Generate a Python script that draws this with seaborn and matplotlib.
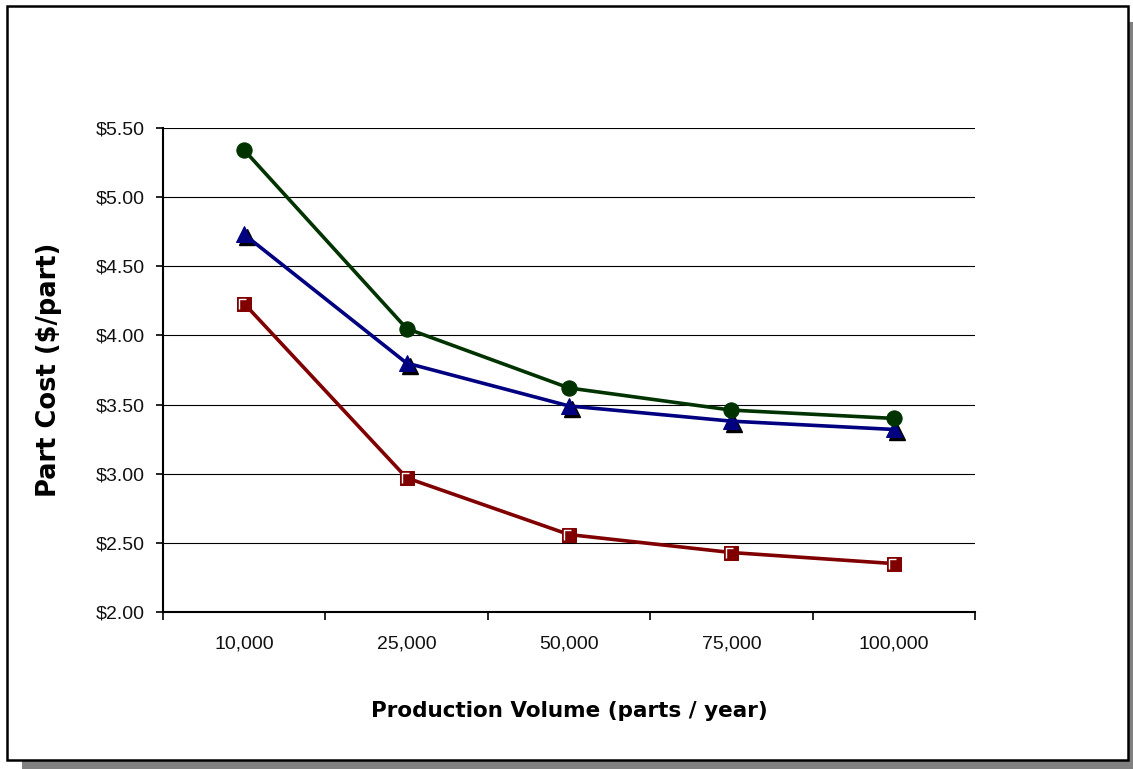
#!/usr/bin/env python3
"""Part cost vs production volume -- Excel-style line chart."""

import numpy as np
import matplotlib.pyplot as plt
import matplotlib.patches as mpatches
import matplotlib.transforms as mtransforms
from matplotlib.path import Path
import seaborn as sns

# ── data ────────────────────────────────────────────────────────────
volumes = ["10,000", "25,000", "50,000", "75,000", "100,000"]
cost_green = [5.34, 4.05, 3.62, 3.46, 3.40]
cost_blue = [4.73, 3.80, 3.49, 3.38, 3.32]
cost_red = [4.23, 2.97, 2.56, 2.43, 2.35]

green = "#003300"
blue = "#000080"
red = "#800000"

# ── figure ──────────────────────────────────────────────────────────
sns.set_style("white")
plt.rcParams["font.family"] = ["Liberation Sans", "DejaVu Sans"]
plt.rcParams["text.color"] = "black"
plt.rcParams["axes.labelcolor"] = "black"

fig = plt.figure(figsize=(11.33, 7.69), dpi=100)
ax = fig.add_axes([163 / 1133, 1 - 612 / 769, 812 / 1133, 484 / 769])
ax.set_facecolor("white")

# outer frame with grey drop shadow
W, H = 1133, 769
shadow = mpatches.Rectangle(
    (22 / W, 0), (W - 22) / W, (H - 22) / H,
    transform=fig.transFigure, facecolor="#808080", edgecolor="none", zorder=-20,
)
frame = mpatches.Rectangle(
    (7 / W, 9 / H), 1121 / W, 754 / H,
    transform=fig.transFigure, facecolor="white", edgecolor="black",
    linewidth=1.8, zorder=-10,
)
fig.patches.extend([shadow, frame])

pos = np.arange(len(volumes))

sns.lineplot(x=pos, y=cost_green, ax=ax, color=green, linewidth=2.6,
             marker="o", markersize=11, markeredgecolor=green, zorder=5)

# black shadow behind the triangles
shift = mtransforms.ScaledTranslation(3 / 100, -3 / 100, fig.dpi_scale_trans)
ax.plot(pos, cost_blue, linestyle="none", marker="^", markersize=11.5,
        color="black", transform=ax.transData + shift, zorder=3)
sns.lineplot(x=pos, y=cost_blue, ax=ax, color=blue, linewidth=2.6,
             marker="^", markersize=11.5, markeredgecolor=blue, zorder=4)

sns.lineplot(x=pos, y=cost_red, ax=ax, color=red, linewidth=2.6,
             marker="s", markersize=10, markeredgecolor=red, zorder=4)
# white bevel highlight on the squares
bevel = Path([(-1, -1), (-1, 1), (0.5, 1)], [Path.MOVETO, Path.LINETO, Path.LINETO])
ax.plot(pos, cost_red, linestyle="none", marker=bevel, markersize=7,
        markeredgecolor="white", markerfacecolor="none", markeredgewidth=1,
        zorder=6)

# ── axes styling ────────────────────────────────────────────────────
ax.set_xlim(-0.5, len(volumes) - 0.5)
ax.set_ylim(2.0, 5.5)
ax.set_yticks(np.arange(2.0, 5.51, 0.5))
ax.set_yticklabels([f"${v:.2f}" for v in np.arange(2.0, 5.51, 0.5)])
ax.set_xticks(pos)
ax.set_xticklabels(volumes)
ax.set_xticks(np.arange(-0.5, len(volumes), 1.0), minor=True)

ax.grid(axis="y", color="black", linewidth=0.8)
ax.grid(axis="x", visible=False)
ax.set_axisbelow(True)

for side in ["top", "right"]:
    ax.spines[side].set_visible(False)
for side in ["left", "bottom"]:
    ax.spines[side].set_color("black")
    ax.spines[side].set_linewidth(1.5)

ax.tick_params(axis="y", which="major", direction="out", length=5, width=1.2,
               color="black", pad=8, labelsize=14, labelcolor="#111111", left=True)
ax.tick_params(axis="x", which="major", length=0, pad=17, labelsize=14,
               labelcolor="#111111")
ax.tick_params(axis="x", which="minor", direction="out", length=6, width=1.2,
               color="black", bottom=True)

ax.set_xlabel("Production Volume (parts / year)", fontsize=15.5,
              fontweight="bold", family="DejaVu Sans", color="black")
ax.xaxis.set_label_coords(0.5, -0.183)
ax.set_ylabel("Part Cost ($/part)", fontsize=18.5, fontweight="bold",
              family="DejaVu Sans", color="black")
ax.yaxis.set_label_coords(-0.124, 0.5)

fig.savefig("out.png", dpi=100)
plt.close(fig)
